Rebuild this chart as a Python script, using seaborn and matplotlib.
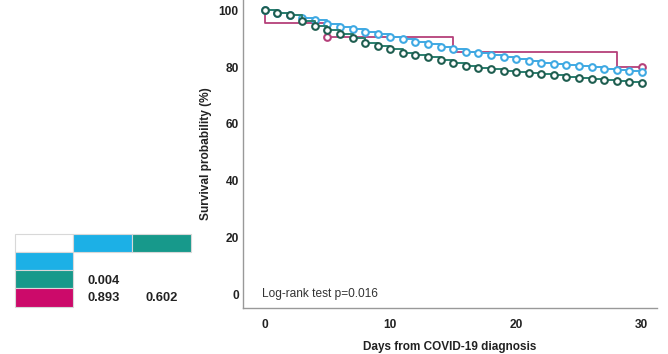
import matplotlib
matplotlib.use("Agg")
import matplotlib.pyplot as plt
import seaborn as sns
import pandas as pd
from matplotlib.patches import Rectangle

sns.set_theme(style="white")
plt.rcParams['font.family'] = ['Liberation Sans', 'DejaVu Sans']

# ---- data ----
days = list(range(31))
blue_surv = [100, 99.2, 98.4, 97.4, 96.5, 95.2, 94.3, 93.4, 92.3, 91.7, 90.8,
             89.8, 89.0, 88.2, 87.2, 86.3, 85.5, 84.9, 84.3, 83.7, 82.9,
             82.2, 81.6, 81.1, 80.8, 80.4, 80.0, 79.5, 79.0, 78.8, 78.3]
teal_surv = [100, 99.2, 98.4, 96.4, 94.5, 93.1, 91.6, 90.2, 88.6, 87.6, 86.3,
             84.9, 84.3, 83.5, 82.5, 81.4, 80.4, 79.8, 79.3, 78.8, 78.3,
             77.8, 77.5, 77.1, 76.6, 76.2, 75.7, 75.4, 75.1, 74.8, 74.4]
mag_days = [0, 0, 5, 15, 28, 30]
mag_surv = [100, 95.5, 90.5, 85.2, 80.0, 80.0]
mag_censor_idx = [2, 5]

x_ticks = [0, 10, 20, 30]
y_ticks = [0, 20, 40, 60, 80, 100]
pvalue_text = "Log-rank test p=0.016"
pair_pvalues = ["0.004", "0.893", "0.602"]

c_blue = "#3fa9e3"
c_blue_cell = "#1cb0e6"
c_teal = "#2a8070"
c_teal_edge = "#1f5e50"
c_teal_cell = "#17998b"
c_mag = "#b5407a"
c_mag_cell = "#cc0a6a"

W, H = 668, 354
fig = plt.figure(figsize=(W / 100, H / 100), dpi=100)

# background axes in pixel coords for the pairwise table
bg = fig.add_axes([0, 0, 1, 1])
bg.set_xlim(0, W)
bg.set_ylim(H, 0)
bg.axis("off")

cols = [15, 72.7, 132.3, 191]
rows = [234, 252.3, 270, 288.3, 307]
cells = [
    (0, 0, "white"), (1, 0, c_blue_cell), (2, 0, c_teal_cell),
    (0, 1, c_blue_cell), (0, 2, c_teal_cell), (0, 3, c_mag_cell),
]
for ci, ri, col in cells:
    bg.add_patch(Rectangle((cols[ci], rows[ri]), cols[ci + 1] - cols[ci],
                           rows[ri + 1] - rows[ri], facecolor=col,
                           edgecolor="#d8d8d8", linewidth=0.8))
tkw = dict(fontsize=9.3, fontweight="bold", va="center", ha="left",
           color="#222222")
bg.text(87, (rows[2] + rows[3]) / 2 + 1.5, pair_pvalues[0], **tkw)
bg.text(87, (rows[3] + rows[4]) / 2, pair_pvalues[1], **tkw)
bg.text(146, (rows[3] + rows[4]) / 2, pair_pvalues[2], **tkw)

# main KM axes
ax = fig.add_axes([243 / W, 1 - 308 / H, (657 - 243) / W, 308 / H])
ax.patch.set_alpha(0)

sns.lineplot(x=mag_days, y=mag_surv, ax=ax, estimator=None, sort=False,
             drawstyle="steps-post", color=c_mag, linewidth=1.3,
             marker="o", markevery=mag_censor_idx, markersize=4.8,
             markerfacecolor="white", markeredgecolor=c_mag,
             markeredgewidth=1.5)
sns.lineplot(x=days, y=blue_surv, ax=ax, estimator=None, sort=False,
             drawstyle="steps-post", color=c_blue, linewidth=1.4,
             marker="o", markersize=4.8, markerfacecolor="white",
             markeredgecolor=c_blue, markeredgewidth=1.5)
sns.lineplot(x=days, y=teal_surv, ax=ax, estimator=None, sort=False,
             drawstyle="steps-post", color=c_teal, linewidth=1.4,
             marker="o", markersize=4.8, markerfacecolor="white",
             markeredgecolor=c_teal_edge, markeredgewidth=1.5)

ax.set_xlim(-1.71, 31.2)
ax.set_ylim(-4.9, 103.7)
ax.set_xticks(x_ticks)
ax.set_yticks(y_ticks)
ax.set_xticklabels([str(t) for t in x_ticks], fontsize=8.6, fontweight="bold")
ax.set_yticklabels([str(t) for t in y_ticks], fontsize=8.6, fontweight="bold")
ax.tick_params(axis="both", length=0, colors="#222222")
ax.tick_params(axis="x", pad=8)
ax.tick_params(axis="y", pad=3)
for s in ["top", "right"]:
    ax.spines[s].set_visible(False)
for s in ["left", "bottom"]:
    ax.spines[s].set_color("#999999")
    ax.spines[s].set_linewidth(1.0)

ax.set_xlabel("Days from COVID-19 diagnosis", fontsize=8.5, fontweight="bold",
              labelpad=7, color="#222222")
ax.set_ylabel("Survival probability (%)", fontsize=8.6, fontweight="bold",
              labelpad=5, color="#222222")
ax.text(-0.2, 0, pvalue_text, fontsize=8.6, va="center", ha="left",
        color="#333333")

fig.savefig("out.png", dpi=100)
